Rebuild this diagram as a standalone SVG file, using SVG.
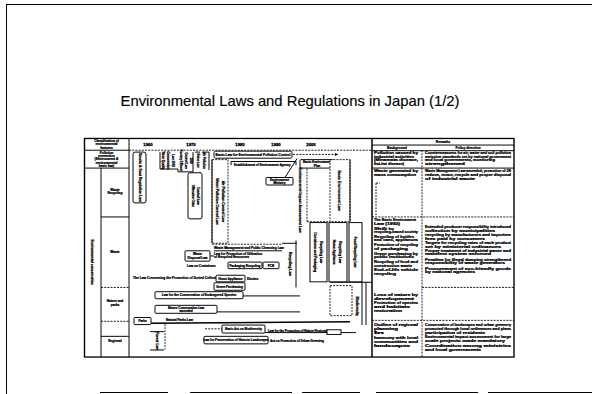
<svg xmlns="http://www.w3.org/2000/svg" width="592" height="394" viewBox="0 0 592 394">
<defs>
<marker id="ah" viewBox="0 0 6 6" refX="5.5" refY="3" markerWidth="4" markerHeight="4" orient="auto"><path d="M0,0 L6,3 L0,6 z" fill="#000"/></marker>
<style>
.ln{stroke:#000;stroke-width:1;fill:none}
.th{stroke:#000;stroke-width:1.5;fill:none}
.dl{stroke:#000;stroke-width:0.9;fill:none;stroke-dasharray:2 1.2}
.bx{fill:#fff;stroke:#000;stroke-width:1}
.db{fill:#fff;stroke:#000;stroke-width:0.9;stroke-dasharray:2 1.2}
.tx{font-family:"Liberation Sans",Arial,sans-serif;font-weight:bold;font-size:3.4px;fill:#000;stroke:#000;stroke-width:0.25}
.hd{font-family:"Liberation Sans",Arial,sans-serif;font-weight:bold;font-size:4.2px;fill:#000;stroke:#000;stroke-width:0.3}
.ttl{font-family:"Liberation Sans",Arial,sans-serif;font-size:14.8px;fill:#000;stroke:#000;stroke-width:0.15}
</style>
</defs>
<rect width="592" height="394" fill="#fff"/>

<g id="slide-frame">
<line class="ln" x1="6.5" y1="4" x2="6.5" y2="394" stroke-width="1.3"/>
<line class="ln" x1="6" y1="4.5" x2="592" y2="4.5" stroke-width="1.3"/>
<path class="ln" stroke-width="1.2" d="M100,392.5H168M190,392.5H292M302,392.5H360M376,392.5H478M488,392.5H592"/>
</g>

<text id="title" class="ttl" x="290" y="106" text-anchor="middle">Environmental Laws and Regulations in Japan (1/2)</text>

<g id="table" transform="matrix(1 0 0 0.94 0 21.44)">
<g id="table-grid">
<rect x="84.5" y="124.5" width="429.5" height="232.5" fill="none" stroke="#000" stroke-width="1.4"/>
<line class="ln" x1="129" y1="124" x2="129" y2="357" stroke-width="1.2"/>
<line class="ln" x1="101" y1="156" x2="101" y2="357"/>
<line class="th" x1="372" y1="124" x2="372" y2="357" stroke-width="1.8"/>
<line class="dl" x1="422" y1="137" x2="422" y2="357"/>
<line class="ln" x1="84" y1="137" x2="129" y2="137"/>
<line class="dl" x1="129" y1="137" x2="372" y2="137"/>
<line class="ln" x1="372" y1="131.5" x2="514" y2="131.5"/>
<line class="ln" x1="372" y1="137.5" x2="514" y2="137.5"/>
<line class="ln" x1="84" y1="156" x2="129" y2="156"/>
<line class="ln" x1="101" y1="208" x2="129" y2="208"/>
<line class="dl" x1="101" y1="283" x2="129" y2="283"/>
<line class="dl" x1="101" y1="319" x2="129" y2="319"/>
<line class="ln" x1="101" y1="335" x2="129" y2="335"/>
<line class="ln" x1="372" y1="156" x2="514" y2="156" stroke-width="1.2"/>
<line class="dl" x1="372" y1="208" x2="514" y2="208"/>
<line class="dl" x1="422" y1="283" x2="514" y2="283"/>
<line class="dl" x1="372" y1="318" x2="514" y2="318"/>
</g>

<g id="header">
<text class="tx" x="106.5" y="128.2" text-anchor="middle" style="font-size:3.2px">Classification of</text>
<text class="tx" x="106.5" y="131.7" text-anchor="middle" style="font-size:3.2px">environmental</text>
<text class="tx" x="106.5" y="135.2" text-anchor="middle" style="font-size:3.2px">features</text>
<text class="hd" x="148" y="132.5" text-anchor="middle">1960</text>
<text class="hd" x="191" y="132.5" text-anchor="middle">1970</text>
<text class="hd" x="240" y="132.5" text-anchor="middle">1980</text>
<text class="hd" x="276" y="132.5" text-anchor="middle">1990</text>
<text class="hd" x="311" y="132.5" text-anchor="middle">2000</text>
<text class="tx" x="443" y="129.8" text-anchor="middle">Remarks</text>
<text class="tx" x="397" y="135.8" text-anchor="middle">Background</text>
<text class="tx" x="468" y="135.8" text-anchor="middle">Policy direction</text>
</g>

<g id="row-labels">
<text class="tx" x="106.5" y="141" text-anchor="middle" style="font-size:3.2px">Pollution</text>
<text class="tx" x="106.5" y="144.4" text-anchor="middle" style="font-size:3.2px">prevention</text>
<text class="tx" x="106.5" y="147.8" text-anchor="middle" style="font-size:3.2px">(Environment &amp;</text>
<text class="tx" x="106.5" y="151.2" text-anchor="middle" style="font-size:3.2px">environmental</text>
<text class="tx" x="106.5" y="154.6" text-anchor="middle" style="font-size:3.2px">basic law)</text>
<text class="tx" x="115" y="180.5" text-anchor="middle" style="font-size:3.2px">Waste</text>
<text class="tx" x="115" y="184" text-anchor="middle" style="font-size:3.2px">Recycling</text>
<text class="tx" x="115" y="246.5" text-anchor="middle" style="font-size:3.2px">Waste</text>
<text class="tx" x="115" y="299" text-anchor="middle" style="font-size:3.2px">Nature and</text>
<text class="tx" x="115" y="302.5" text-anchor="middle" style="font-size:3.2px">parks</text>
<text class="tx" x="115" y="341" text-anchor="middle" style="font-size:3.2px">Regional</text>
<text class="tx" transform="translate(91.3,256) rotate(90)" text-anchor="middle" style="font-size:3.6px">Environmental conservation</text>
</g>

<g id="remarks-text" class="tx">
<text x="374" y="141" textLength="44" lengthAdjust="spacingAndGlyphs">Pollution caused by</text>
<text x="374" y="145" textLength="40" lengthAdjust="spacingAndGlyphs">industrial activities</text>
<text x="374" y="149" textLength="44" lengthAdjust="spacingAndGlyphs">(Minamata disease,</text>
<text x="374" y="153" textLength="30" lengthAdjust="spacingAndGlyphs">Itai-itai disease)</text>
<text x="425" y="141" textLength="86" lengthAdjust="spacingAndGlyphs">Countermeasures for air, water and soil pollution</text>
<text x="425" y="145" textLength="86" lengthAdjust="spacingAndGlyphs">emission standards set by national government</text>
<text x="425" y="149" textLength="70" lengthAdjust="spacingAndGlyphs">and local governments, monitoring</text>
<text x="425" y="153" textLength="40" lengthAdjust="spacingAndGlyphs">strengthened</text>
<text x="374" y="160.5" textLength="44" lengthAdjust="spacingAndGlyphs">Waste generated by</text>
<text x="374" y="164.5" textLength="42" lengthAdjust="spacingAndGlyphs">mass consumption</text>
<text x="425" y="160.5" textLength="86" lengthAdjust="spacingAndGlyphs">Waste Management Law amended; promotion of 3R</text>
<text x="425" y="164.5" textLength="86" lengthAdjust="spacingAndGlyphs">reduce, reuse, recycle and proper disposal</text>
<text x="425" y="168.5" textLength="50" lengthAdjust="spacingAndGlyphs">of industrial waste</text>
<text x="374" y="212.5" textLength="42" lengthAdjust="spacingAndGlyphs">The Basic Environment</text>
<text x="374" y="216.5" textLength="26" lengthAdjust="spacingAndGlyphs">Law (1993)</text>
<text x="374" y="221.5" textLength="20" lengthAdjust="spacingAndGlyphs">Shift to</text>
<text x="374" y="225.5" textLength="44" lengthAdjust="spacingAndGlyphs">recycling-based society</text>
<text x="374" y="230" textLength="40" lengthAdjust="spacingAndGlyphs">Recycling of bottles</text>
<text x="374" y="234" textLength="44" lengthAdjust="spacingAndGlyphs">and cans, appliances</text>
<text x="374" y="239" textLength="44" lengthAdjust="spacingAndGlyphs">Promotion of recycling</text>
<text x="374" y="243" textLength="34" lengthAdjust="spacingAndGlyphs">of packaging</text>
<text x="374" y="248" textLength="44" lengthAdjust="spacingAndGlyphs">Green purchasing by</text>
<text x="374" y="252" textLength="40" lengthAdjust="spacingAndGlyphs">public institutions</text>
<text x="374" y="257" textLength="44" lengthAdjust="spacingAndGlyphs">Recycling of food and</text>
<text x="374" y="261" textLength="38" lengthAdjust="spacingAndGlyphs">construction waste</text>
<text x="374" y="266" textLength="44" lengthAdjust="spacingAndGlyphs">End-of-life vehicle</text>
<text x="374" y="270" textLength="22" lengthAdjust="spacingAndGlyphs">recycling</text>
<text x="425" y="220" textLength="86" lengthAdjust="spacingAndGlyphs">Extended producer responsibility introduced</text>
<text x="425" y="224" textLength="70" lengthAdjust="spacingAndGlyphs">collection by municipalities</text>
<text x="425" y="228" textLength="86" lengthAdjust="spacingAndGlyphs">recycling by manufacturers and importers</text>
<text x="425" y="232" textLength="60" lengthAdjust="spacingAndGlyphs">fees paid by consumers</text>
<text x="425" y="236.5" textLength="86" lengthAdjust="spacingAndGlyphs">Targets for recycling rates of each product</text>
<text x="425" y="240.5" textLength="76" lengthAdjust="spacingAndGlyphs">set by ministerial ordinances</text>
<text x="425" y="245" textLength="86" lengthAdjust="spacingAndGlyphs">Proper treatment of industrial waste and</text>
<text x="425" y="249" textLength="66" lengthAdjust="spacingAndGlyphs">manifest system enforced</text>
<text x="425" y="254.5" textLength="86" lengthAdjust="spacingAndGlyphs">Penalties for illegal dumping strengthened</text>
<text x="425" y="258.5" textLength="80" lengthAdjust="spacingAndGlyphs">responsibility of waste generators</text>
<text x="425" y="264" textLength="86" lengthAdjust="spacingAndGlyphs">Procurement of eco-friendly goods</text>
<text x="425" y="268" textLength="50" lengthAdjust="spacingAndGlyphs">by national agencies</text>
<text x="374" y="292" textLength="44" lengthAdjust="spacingAndGlyphs">Loss of nature by</text>
<text x="374" y="296" textLength="40" lengthAdjust="spacingAndGlyphs">development</text>
<text x="374" y="301" textLength="44" lengthAdjust="spacingAndGlyphs">Protection of species</text>
<text x="374" y="305" textLength="36" lengthAdjust="spacingAndGlyphs">and habitats</text>
<text x="374" y="309" textLength="28" lengthAdjust="spacingAndGlyphs">restoration</text>
<text x="374" y="324" textLength="44" lengthAdjust="spacingAndGlyphs">Outline of regional</text>
<text x="374" y="328" textLength="24" lengthAdjust="spacingAndGlyphs">planning</text>
<text x="374" y="333" textLength="10" lengthAdjust="spacingAndGlyphs">In</text>
<text x="374" y="337.5" textLength="44" lengthAdjust="spacingAndGlyphs">harmony with local</text>
<text x="374" y="342" textLength="44" lengthAdjust="spacingAndGlyphs">communities and</text>
<text x="374" y="346.5" textLength="36" lengthAdjust="spacingAndGlyphs">landscapes</text>
<text x="425" y="324" textLength="86" lengthAdjust="spacingAndGlyphs">Conservation of landscapes and urban greenery</text>
<text x="425" y="328" textLength="86" lengthAdjust="spacingAndGlyphs">promoted through local ordinances and plans</text>
<text x="425" y="332.5" textLength="60" lengthAdjust="spacingAndGlyphs">participation of residents</text>
<text x="425" y="337" textLength="86" lengthAdjust="spacingAndGlyphs">Environmental impact assessment for large</text>
<text x="425" y="341.5" textLength="80" lengthAdjust="spacingAndGlyphs">scale projects made mandatory</text>
<text x="425" y="346" textLength="86" lengthAdjust="spacingAndGlyphs">Coordination among ministries</text>
<text x="425" y="350.5" textLength="56" lengthAdjust="spacingAndGlyphs">and local governments</text>
</g>

<g id="connectors">
<line class="dl" x1="293" y1="141.5" x2="338" y2="141.5" marker-end="url(#ah)"/>
<path class="ln" d="M231,153V149H296V153"/>
<line class="ln" x1="297" y1="146" x2="285" y2="166"/>
<path class="ln" d="M160,139V157H178M193,139V160H178M178,157V160M200,160V161"/>
<path class="dl" d="M376,172H380M376,172V206"/>
<line class="dl" x1="307" y1="147" x2="307" y2="213"/>
<line class="dl" x1="307" y1="213" x2="330" y2="213"/>
<line class="dl" x1="212" y1="237" x2="282" y2="237"/>
<line class="ln" x1="282" y1="236" x2="297" y2="236"/>
<line class="ln" x1="296" y1="233" x2="296" y2="283"/>
<line class="ln" x1="214" y1="244" x2="282" y2="244"/>
<line class="ln" x1="210" y1="249.5" x2="214" y2="249.5"/>
<line class="ln" x1="330" y1="277.5" x2="372" y2="277.5"/>
<line class="ln" x1="243" y1="292" x2="300" y2="292"/>
<line class="ln" x1="217" y1="309" x2="300" y2="309"/>
<line class="ln" x1="362" y1="277" x2="362" y2="323"/>
<line class="ln" x1="366" y1="277" x2="366" y2="323"/>
<line class="ln" x1="338" y1="300" x2="352" y2="300" marker-end="url(#ah)"/>
<line class="th" x1="151" y1="321" x2="350" y2="319.5"/>
<path class="ln" d="M150,330H164M150,349.5H164"/>
<line class="dl" x1="165" y1="322" x2="165" y2="349"/>
<line class="dl" x1="205" y1="327" x2="222" y2="327"/>
<line class="ln" x1="265" y1="331" x2="356" y2="331"/>
</g>

<g id="n-smoke-law">
<rect class="bx" x="133" y="139" width="13" height="54" rx="2"/>
<text class="tx" transform="translate(138.5,166) rotate(90)" text-anchor="middle" style="font-size:3.6px">Smoke &amp; Soot Regulation Law</text>
</g>

<g id="n-water-laws">
<text class="tx" transform="translate(162,148) rotate(90)" text-anchor="middle" style="font-size:3px">Water Quality</text>
<text class="tx" transform="translate(167,148) rotate(90)" text-anchor="middle" style="font-size:3px">Conservation</text>
<text class="tx" transform="translate(172,148) rotate(90)" text-anchor="middle" style="font-size:3px">Law 1958</text>
<text class="tx" transform="translate(180,148) rotate(90)" text-anchor="middle" style="font-size:3px">Factory Effluent</text>
<text class="tx" transform="translate(185,148) rotate(90)" text-anchor="middle" style="font-size:3px">Control Law</text>
<text class="tx" transform="translate(190,148) rotate(90)" text-anchor="middle" style="font-size:3px">1958</text>
<text class="tx" transform="translate(197,148) rotate(90)" text-anchor="middle" style="font-size:3px">Noise Law</text>
<text class="tx" transform="translate(203,148) rotate(90)" text-anchor="middle" style="font-size:3px">Air Pollution</text>
<path class="ln" d="M195,139H200M202,139H209V158"/>
</g>

<g id="n-odor-law">
<rect class="bx" x="188" y="161" width="14" height="49" rx="2"/>
<text class="tx" transform="translate(192.2,185.5) rotate(90)" text-anchor="middle" style="font-size:3.3px">Offensive Odor</text>
<text class="tx" transform="translate(197.2,185.5) rotate(90)" text-anchor="middle" style="font-size:3.3px">Control Law</text>
</g>

<g id="n-basic-pollution">
<rect class="bx" x="214" y="138" width="78" height="7.5" rx="1.5"/>
<text class="tx" x="253" y="143.2" text-anchor="middle">Basic Law for Environmental Pollution Control</text>
</g>

<g id="n-env-agency">
<text class="tx" x="234" y="153.5" style="font-size:3.1px">Establishment of Environment Agency</text>
</g>

<g id="n-basic-plan">
<rect class="bx" x="300" y="147" width="34" height="9" rx="1"/>
<text class="tx" x="317" y="150.9" text-anchor="middle" style="font-size:3.1px">Basic Environment</text>
<text class="tx" x="317" y="154.6" text-anchor="middle" style="font-size:3.1px">Plan</text>
</g>

<g id="n-agency-label">
<rect class="bx" x="266" y="166" width="27" height="8" rx="1"/>
<text class="tx" x="279.5" y="169.6" text-anchor="middle" style="font-size:3.1px">Environment</text>
<text class="tx" x="279.5" y="173.1" text-anchor="middle" style="font-size:3.1px">Ministry</text>
</g>

<g id="n-pollution-column">
<rect class="db" x="212" y="147" width="16" height="89"/>
<line class="ln" x1="212" y1="147" x2="212" y2="236"/>
<text class="tx" transform="translate(215.5,191.5) rotate(90)" text-anchor="middle" style="font-size:3.7px">Water Pollution Control Law</text>
<text class="tx" transform="translate(221.5,191.5) rotate(90)" text-anchor="middle" style="font-size:3.7px">Air Pollution Control Law</text>
</g>

<g id="n-eia-law">
<text class="tx" transform="translate(298.5,190) rotate(90)" text-anchor="middle" style="font-size:3.7px">Environmental Impact Assessment Law</text>
</g>

<g id="n-basic-env-law">
<rect class="db" x="330" y="147" width="20" height="66"/>
<line class="ln" x1="350" y1="147" x2="350" y2="213"/>
<text class="tx" transform="translate(337.5,180) rotate(90)" text-anchor="middle" style="font-size:3.8px">Basic Environment Law</text>
</g>

<g id="n-waste-texts">
<text class="tx" x="214" y="242.3" style="font-size:3.2px">Waste Management and Public Cleansing Law</text>
<text class="tx" x="214" y="248.3" style="font-size:3.2px">Law for Promotion of Utilization</text>
<text class="tx" x="214" y="252" style="font-size:3.2px">of Recycled Resources</text>
<rect class="bx" x="185" y="244" width="25" height="11" rx="1"/>
<text class="tx" x="197.5" y="248.6" text-anchor="middle" style="font-size:3.1px">Waste</text>
<text class="tx" x="197.5" y="252.6" text-anchor="middle" style="font-size:3.1px">Disposal Law</text>
<text class="tx" x="187" y="261.5" style="font-size:3.2px">Law on Containers</text>
<rect class="bx" x="228" y="256" width="34" height="7" rx="1"/>
<text class="tx" x="245" y="261" text-anchor="middle" style="font-size:3.1px">Packaging Recycling</text>
<rect class="bx" x="263" y="256" width="16" height="7" rx="1"/>
<text class="tx" x="271" y="261" text-anchor="middle" style="font-size:3.1px">PCB</text>
<text class="tx" x="133" y="274.5" style="font-size:3.3px">The Law Concerning the Promotion of Sorted Collection</text>
<rect class="bx" x="216" y="270" width="29" height="7" rx="1"/>
<text class="tx" x="230.5" y="275" text-anchor="middle" style="font-size:3.1px">Home Appliance</text>
<text class="tx" x="247" y="275" style="font-size:3.1px">Dioxins</text>
<rect class="bx" x="214" y="278" width="31" height="8" rx="1"/>
<text class="tx" x="229.5" y="283.5" text-anchor="middle" style="font-size:3.1px">Green Purchasing</text>
<text class="tx" transform="translate(288.7,258) rotate(90)" text-anchor="middle" style="font-size:3.7px">Recycling Law</text>
</g>

<g id="n-recycling-boxes">
<rect class="bx" x="310" y="214" width="17" height="63"/>
<text class="tx" transform="translate(314,245.5) rotate(90)" text-anchor="middle" style="font-size:3.4px">Containers and Packaging</text>
<text class="tx" transform="translate(320,245.5) rotate(90)" text-anchor="middle" style="font-size:3.4px">Recycling Law</text>
<rect class="bx" x="329" y="214" width="18" height="63"/>
<text class="tx" transform="translate(333.3,245.5) rotate(90)" text-anchor="middle" style="font-size:3.4px">Home Appliance</text>
<text class="tx" transform="translate(339.3,245.5) rotate(90)" text-anchor="middle" style="font-size:3.4px">Recycling Law</text>
<rect class="bx" x="349" y="214" width="13" height="63"/>
<text class="tx" transform="translate(354,245.5) rotate(90)" text-anchor="middle" style="font-size:3.4px">Food Recycling Law</text>
</g>

<g id="n-species-law">
<rect class="bx" x="155" y="287.5" width="88" height="7.5" rx="1"/>
<text class="tx" x="199" y="292.6" text-anchor="middle" style="font-size:3.2px">Law for the Conservation of Endangered Species</text>
</g>

<g id="n-nature-law">
<rect class="bx" x="155" y="302" width="62" height="8.5" rx="1"/>
<text class="tx" x="186" y="305.6" text-anchor="middle" style="font-size:3px">Nature Conservation Law</text>
<text class="tx" x="186" y="309.2" text-anchor="middle" style="font-size:3px">amended</text>
</g>

<g id="n-biodiversity">
<rect class="db" x="330" y="281" width="22" height="32"/>
<text class="tx" transform="translate(355.5,303) rotate(90)" text-anchor="middle" style="font-size:3.6px">Biodiversity</text>
</g>

<g id="n-parks-law">
<rect class="bx" x="134" y="315" width="17" height="7.5" rx="1"/>
<text class="tx" x="142.5" y="320" text-anchor="middle" style="font-size:3px">Parks</text>
<text class="tx" x="166" y="318.8" style="font-size:3.1px">Natural Parks Law</text>
</g>

<g id="n-forest-law">
<text class="tx" transform="translate(155.8,340) rotate(90)" text-anchor="middle" style="font-size:3.6px">Forest Law</text>
</g>

<g id="n-restoration">
<rect class="bx" x="222" y="323" width="43" height="8.5" rx="1"/>
<text class="tx" x="243.5" y="328.5" text-anchor="middle" style="font-size:3.1px">Basic Act on Biodiversity</text>
<text class="tx" x="268" y="330" style="font-size:3px">Law for the Promotion of Nature Restoration</text>
<rect class="bx" x="327" y="328" width="14" height="5"/>
</g>

<g id="n-landscape">
<rect class="bx" x="204" y="335" width="64" height="8" rx="1"/>
<text class="tx" x="236" y="340.3" text-anchor="middle" style="font-size:3.1px">Law for Preservation of Historic Landscapes</text>
<text class="tx" x="270" y="341.5" style="font-size:3.1px">Act on Promotion of Urban Greening</text>
</g>
</g>
</svg>
